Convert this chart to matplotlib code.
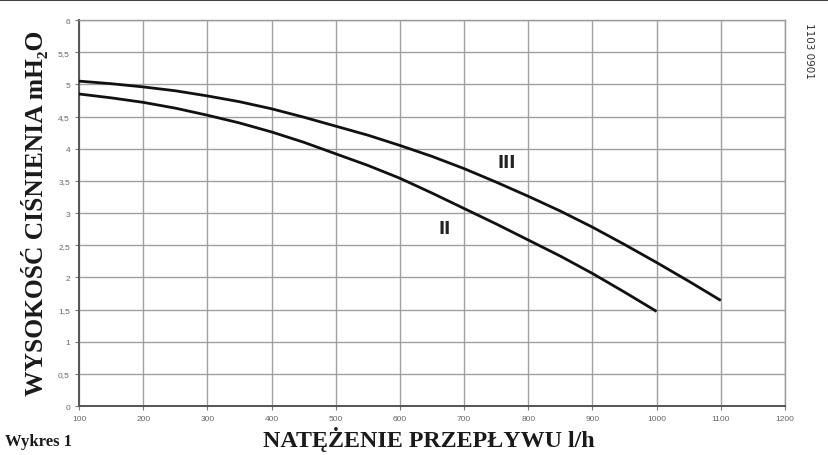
import numpy as np
import matplotlib
matplotlib.use('Agg')
import matplotlib.pyplot as plt
from matplotlib.ticker import FuncFormatter
from matplotlib.lines import Line2D

# natezenie przeplywu l/h
flow_iii = [100, 150, 200, 250, 300, 350, 400, 450, 500, 550, 600, 650, 700,
            750, 800, 850, 900, 950, 1000, 1050, 1100]
head_iii = [5.05, 5.01, 4.96, 4.90, 4.82, 4.73, 4.62, 4.49, 4.35, 4.21, 4.05, 3.88, 3.69,
            3.48, 3.26, 3.03, 2.78, 2.51, 2.23, 1.94, 1.64]

flow_ii = [100, 150, 200, 250, 300, 350, 400, 450, 500, 550, 600, 650, 700,
           750, 800, 850, 900, 950, 1000]
head_ii = [4.85, 4.79, 4.72, 4.63, 4.52, 4.40, 4.26, 4.10, 3.92, 3.74, 3.54, 3.31, 3.07,
           2.83, 2.58, 2.33, 2.06, 1.77, 1.47]

x_ticks = list(range(100, 1300, 100))
y_ticks = [0, 0.5, 1, 1.5, 2, 2.5, 3, 3.5, 4, 4.5, 5, 5.5, 6]

fig = plt.figure(figsize=(8.29, 4.56), dpi=100)
ax = fig.add_axes([79 / 829, 1 - 407 / 456, 706 / 829, 386 / 456])

ax.plot(flow_iii, head_iii, color='#111111', lw=2.0, solid_capstyle='butt', zorder=3)
ax.plot(flow_ii, head_ii, color='#111111', lw=2.0, solid_capstyle='butt', zorder=3)

ax.text(767, 3.79, 'III', fontsize=12, fontweight='bold', color='#222222',
        ha='center', va='center', family='DejaVu Sans')
ax.text(670, 2.77, 'II', fontsize=12, fontweight='bold', color='#222222',
        ha='center', va='center', family='DejaVu Sans')

ax.set_xlim(100, 1200)
ax.set_ylim(0, 6)
ax.set_xticks(x_ticks)
ax.set_yticks(y_ticks)
ax.yaxis.set_major_formatter(FuncFormatter(lambda v, p: ('%g' % v).replace('.', ',')))
ax.tick_params(labelsize=6, labelcolor='#666666', color='#777777', length=3, width=0.8)
for lab in ax.get_xticklabels() + ax.get_yticklabels():
    lab.set_family('Liberation Sans')
ax.grid(True, color='#a0a0a0', lw=1.0)
for s in ['top', 'right']:
    ax.spines[s].set_color('#999999')
    ax.spines[s].set_linewidth(1.0)
for s in ['left', 'bottom']:
    ax.spines[s].set_color('#555555')
    ax.spines[s].set_linewidth(1.4)

fig.text(35 / 829, 1 - 213 / 456, 'WYSOKOŚĆ CIŚNIENIA mH₂O', rotation=90,
         ha='center', va='center', fontsize=18.4, fontweight='bold',
         family=['Liberation Serif', 'DejaVu Serif'], color='#1a1a1a')
fig.text(429 / 829, 1 - 440 / 456, 'NATĘŻENIE PRZEPŁYWU l/h', ha='center', va='center',
         fontsize=17.3, fontweight='bold', family='Liberation Serif', color='#1a1a1a')
fig.text(5 / 829, 1 - 442 / 456, 'Wykres 1', ha='left', va='center',
         fontsize=12, fontweight='bold', family='Liberation Serif', color='#1a1a1a')
fig.text(809 / 829, 1 - 51 / 456, '1103 0901', rotation=-90, ha='center', va='center',
         fontsize=7.5, family='DejaVu Sans', color='#333333')

fig.add_artist(Line2D([0, 1], [0.997, 0.997], transform=fig.transFigure,
                      color='#444444', lw=1.5))

fig.savefig('out.png', dpi=100)
